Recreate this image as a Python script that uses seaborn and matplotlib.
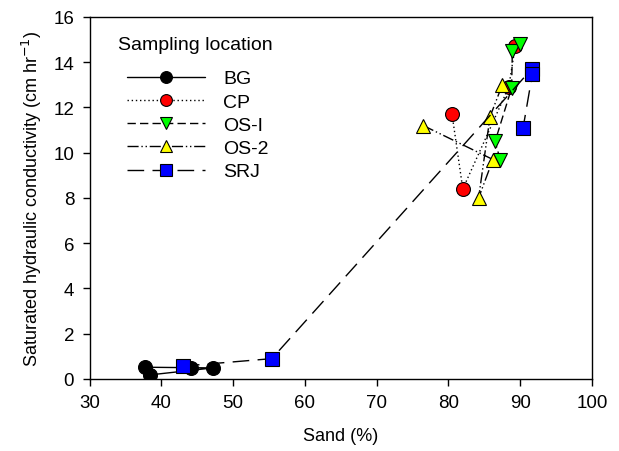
import matplotlib
matplotlib.use("Agg")
import matplotlib.pyplot as plt
import seaborn as sns

# values (sand %, Ks cm/hr), in drawing order
locations = ["BG", "CP", "OS-I", "OS-2", "SRJ"]
bg_sand = [37.7, 44.2, 47.2, 38.4]
bg_ks = [0.52, 0.50, 0.49, 0.18]
cp_sand = [80.5, 82.0, 88.4, 89.3]
cp_ks = [11.7, 8.4, 12.9, 14.7]
os1_sand = [87.2, 86.5, 88.8, 88.9, 90.0]
os1_ks = [9.7, 10.5, 12.86, 14.5, 14.8]
os2_sand = [76.5, 86.2, 84.2, 85.8, 87.5]
os2_ks = [11.2, 9.7, 8.0, 11.6, 13.0]
srj_sand = [43.0, 55.4, 91.6, 91.7, 90.4]
srj_ks = [0.57, 0.90, 13.7, 13.5, 11.1]

series = {
    "BG": (bg_sand, bg_ks),
    "CP": (cp_sand, cp_ks),
    "OS-I": (os1_sand, os1_ks),
    "OS-2": (os2_sand, os2_ks),
    "SRJ": (srj_sand, srj_ks),
}

colors = {"BG": "black", "CP": "red", "OS-I": "#00ff00", "OS-2": "yellow", "SRJ": "blue"}
markers = {"BG": "o", "CP": "o", "OS-I": "v", "OS-2": "^", "SRJ": "s"}
styles = {"BG": "-", "CP": (0, (1, 2)), "OS-I": (0, (6, 3)),
          "OS-2": (0, (8, 2, 1, 2, 1, 2)), "SRJ": (0, (12, 6))}

sns.set_style("ticks")
plt.rcParams["font.family"] = ["Liberation Sans", "DejaVu Sans"]
plt.rcParams["text.color"] = "black"
plt.rcParams["axes.labelcolor"] = "black"
plt.rcParams["xtick.color"] = "black"
plt.rcParams["ytick.color"] = "black"

fig = plt.figure(figsize=(6.19, 4.52), dpi=100)
ax = fig.add_axes([0.1446, 0.1593, 0.8118, 0.8009])

for loc in locations:
    xs, ys = series[loc]
    sns.lineplot(x=xs, y=ys, sort=False, estimator=None, ax=ax,
                 color="black", linewidth=1, linestyle=styles[loc],
                 marker=markers[loc], markersize=10, markerfacecolor=colors[loc],
                 markeredgecolor="black", markeredgewidth=0.8, label=loc)

ax.set_xlim(30, 100)
ax.set_ylim(0, 16)
ax.set_xticks(range(30, 101, 10))
ax.set_yticks(range(0, 17, 2))
ax.tick_params(labelsize=13.5, direction="out", length=5, width=1, color="black", pad=6)
for s in ax.spines.values():
    s.set_color("black")
    s.set_linewidth(1)
ax.set_xlabel("Sand (%)", fontsize=13, labelpad=11)
ax.set_ylabel("Saturated hydraulic conductivity (cm hr$^{-1}$)", fontsize=13, labelpad=7)

ax.text(0.0567, 0.925, "Sampling location", transform=ax.transAxes,
        fontsize=14, ha="left", va="center")
ax.legend(loc="upper left", bbox_to_anchor=(0.0746, 0.854), borderaxespad=0,
          borderpad=0, frameon=False, fontsize=14, handlelength=4.0,
          handletextpad=0.95, labelspacing=0.29, markerscale=0.85)

fig.savefig("out.png", dpi=100)
